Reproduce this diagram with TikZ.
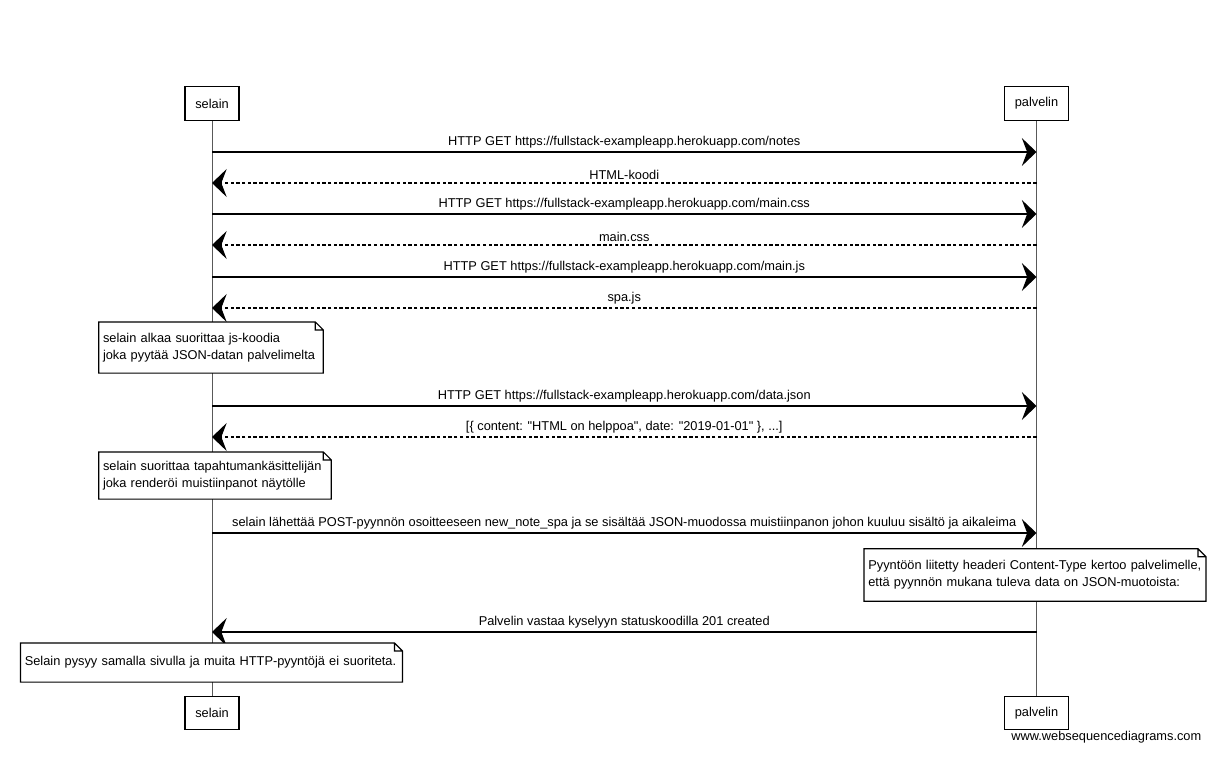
\documentclass[tikz,border=0pt]{standalone}
\usepackage{fontspec}
\setmainfont{Liberation Sans}[Ligatures=TeXOff]
\usetikzlibrary{arrows.meta}

\tikzset{
  actor/.style={shape=rectangle,draw,line width=0.9pt,fill=white,minimum height=25pt,inner sep=2pt},
  life/.style={draw=gray!70!black,line width=0.6pt},
  msg/.style={-{Stealth[length=11pt,width=21pt,inset=4pt]},line width=1.1pt},
  reply/.style={msg,line width=0.8pt,dash pattern=on 2.5pt off 1.8pt},
  lbl/.style={above=1pt,inner sep=1.5pt},
  note/.style={shape=rectangle,fill=white,align=left,inner xsep=3pt,inner ysep=3pt}
}

\begin{document}
\begin{tikzpicture}[x=0.75pt,y=-0.75pt,font=\fontsize{9.6}{12.75}\selectfont]
\useasboundingbox (0,0) rectangle (1228,764);

% participants
\node (sTop) at (212,103.5) [actor,minimum width=40.5pt]{selain};
\node (pTop) at (1036.5,103.5) [actor,minimum width=48pt]{palvelin};
\node (sBot) at (212,713) [actor,minimum width=40.5pt]{selain};
\node (pBot) at (1036.5,713) [actor,minimum width=48pt]{palvelin};
\draw [life] (sTop) -- (sBot);
\draw [life] (pTop) -- (pBot);

% message rows on the lifelines
\foreach \i/\y in {1/152,2/183,3/214,4/245,5/277,6/308,7/406,8/437,9/533,10/632}{
  \coordinate (s\i) at (212,\y);
  \coordinate (p\i) at (1036.5,\y);
}

\draw [msg] (s1) -- node[lbl]{HTTP GET https://fullstack-exampleapp.herokuapp.com/notes} (p1);
\draw [reply] (p2) -- node[lbl]{HTML-koodi} (s2);
\draw [msg] (s3) -- node[lbl]{HTTP GET https://fullstack-exampleapp.herokuapp.com/main.css} (p3);
\draw [reply] (p4) -- node[lbl]{main.css} (s4);
\draw [msg] (s5) -- node[lbl]{HTTP GET https://fullstack-exampleapp.herokuapp.com/main.js} (p5);
\draw [reply] (p6) -- node[lbl]{spa.js} (s6);
\draw [msg] (s7) -- node[lbl]{HTTP GET https://fullstack-exampleapp.herokuapp.com/data.json} (p7);
\draw [reply] (p8) -- node[lbl]{[\{ content: "HTML on helppoa", date: "2019-01-01" \}, ...]} (s8);
\draw [msg] (s9) -- node[lbl]{selain lähettää POST-pyynnön osoitteeseen new\_note\_spa ja se sisältää JSON-muodossa muistiinpanon johon kuuluu sisältö ja aikaleima} (p9);
\draw [msg] (p10) -- node[lbl]{Palvelin vastaa kyselyyn statuskoodilla 201 created} (s10);

% notes
\node (n1) at (211,347.5) [note,minimum width=166.5pt,minimum height=38pt,text width=162pt]{selain alkaa suorittaa js-koodia\\joka pyytää JSON-datan palvelimelta};
\node (n2) at (215,475.5) [note,minimum width=174pt,minimum height=35pt,text width=168pt]{selain suorittaa tapahtumankäsittelijän\\joka renderöi muistiinpanot näytölle};
\node (n3) at (1035,575) [note,minimum width=252pt,minimum height=39pt,text width=250pt]{Pyyntöön liitetty headeri Content-Type kertoo palvelimelle,\\että pyynnön mukana tuleva data on JSON-muotoista:};
\node (n4) at (211.5,662.5) [note,minimum width=283pt,minimum height=29pt,text width=280pt]{Selain pysyy samalla sivulla ja muita HTTP-pyyntöjä ei suoriteta.};
\foreach \n in {n1,n2,n3,n4}
  \draw [line width=0.9pt] (\n.north west) -- ([xshift=-6pt]\n.north east) -- ([yshift=-6pt]\n.north east)
    -- (\n.south east) -- (\n.south west) -- cycle
    ([xshift=-6pt]\n.north east) -- ([xshift=-6pt,yshift=-6pt]\n.north east) -- ([yshift=-6pt]\n.north east);

\node (wsd) at (1206,737) [anchor=east]{www.websequencediagrams.com};
\end{tikzpicture}
\end{document}
